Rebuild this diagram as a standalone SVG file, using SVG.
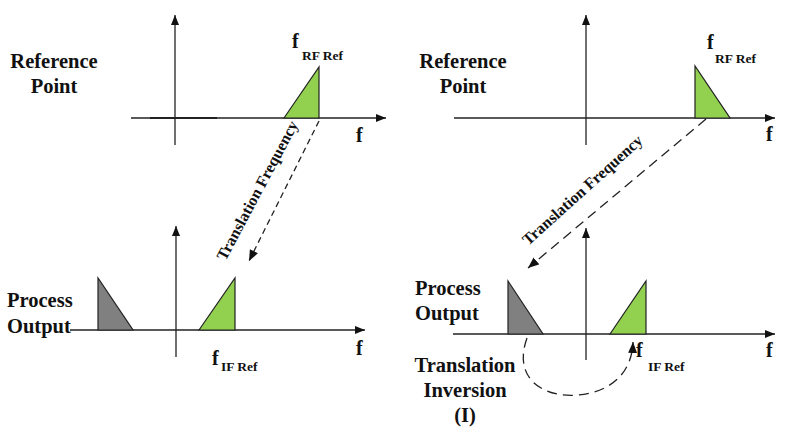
<svg xmlns="http://www.w3.org/2000/svg" width="794" height="434" viewBox="0 0 794 434">
<style>
.ax{stroke:#222;stroke-width:1.3;fill:none}
.lbl{font-family:"Liberation Serif","Times New Roman",serif;font-weight:bold;fill:#111}
.big{font-size:20.5px}
.f{font-size:20px}
.sub{font-size:13.5px}
.rot{font-size:16px}
.green{fill:#92d050;stroke:#222;stroke-width:1.2}
.gray{fill:#808080;stroke:#222;stroke-width:1.2}
.dash{stroke:#222;stroke-width:1.3;fill:none}
</style>
<defs>
<marker id="ah" markerUnits="userSpaceOnUse" markerWidth="12" markerHeight="10" refX="10" refY="4" orient="auto">
<path d="M0,0 L10,4 L0,8 z" fill="#111"/>
</marker>
<marker id="dh" markerUnits="userSpaceOnUse" markerWidth="14" markerHeight="10" refX="11" refY="4.5" orient="auto">
<path d="M0,0 L11,4.5 L0,9 z" fill="#111"/>
</marker>
</defs>
<rect width="794" height="434" fill="#fff"/>

<g id="left-top">
<line class="ax" x1="131" y1="118" x2="386" y2="118" marker-end="url(#ah)"/>
<line x1="150" y1="118" x2="217" y2="118" stroke="#222" stroke-width="2"/>
<line class="ax" x1="175" y1="145" x2="175" y2="15" marker-end="url(#ah)"/>
<polygon class="green" points="284,118 319,67 319,118"/>
<text class="lbl big" x="54" y="68" text-anchor="middle">Reference</text>
<text class="lbl big" x="54" y="93" text-anchor="middle">Point</text>
<text class="lbl f" x="292" y="48">f</text>
<text class="lbl sub" x="302" y="60">RF Ref</text>
<text class="lbl f" x="356" y="142">f</text>
</g>

<g id="left-bottom">
<line class="ax" x1="70" y1="330" x2="365" y2="330" marker-end="url(#ah)"/>
<line class="ax" x1="176" y1="357" x2="176" y2="226" marker-end="url(#ah)"/>
<polygon class="gray" points="98,278 98,330 133,330"/>
<polygon class="green" points="199,330 235,278 235,330"/>
<text class="lbl big" x="7" y="307">Process</text>
<text class="lbl big" x="7" y="333">Output</text>
<text class="lbl f" x="212" y="365">f</text>
<text class="lbl sub" x="221" y="371">IF Ref</text>
<text class="lbl f" x="356" y="355">f</text>
</g>

<g id="right-top">
<line class="ax" x1="454" y1="118" x2="775" y2="118" marker-end="url(#ah)"/>
<line class="ax" x1="586" y1="145" x2="586" y2="15" marker-end="url(#ah)"/>
<polygon class="green" points="695,66 695,118 730,118"/>
<text class="lbl big" x="463" y="68" text-anchor="middle">Reference</text>
<text class="lbl big" x="463" y="93" text-anchor="middle">Point</text>
<text class="lbl f" x="707" y="49">f</text>
<text class="lbl sub" x="715" y="63">RF Ref</text>
<text class="lbl f" x="766" y="141">f</text>
</g>

<g id="right-bottom">
<line class="ax" x1="453" y1="334" x2="775" y2="334" marker-end="url(#ah)"/>
<line class="ax" x1="586" y1="360" x2="586" y2="228" marker-end="url(#ah)"/>
<polygon class="gray" points="508,281 508,334 543,334"/>
<polygon class="green" points="610,334 646,281 646,334"/>
<text class="lbl big" x="415" y="295">Process</text>
<text class="lbl big" x="415" y="320">Output</text>
<text class="lbl big" x="465" y="372" text-anchor="middle">Translation</text>
<text class="lbl big" x="465" y="397" text-anchor="middle">Inversion</text>
<text class="lbl big" x="465" y="422" text-anchor="middle">(I)</text>
<text class="lbl f" x="636" y="357">f</text>
<text class="lbl sub" x="648" y="371">IF Ref</text>
<text class="lbl f" x="766" y="357">f</text>
</g>

<g id="connectors">
<line class="dash" x1="319" y1="121" x2="249" y2="261" stroke-dasharray="6,4" marker-end="url(#dh)"/>
<line class="dash" x1="706" y1="119" x2="528" y2="268" stroke-dasharray="10,6" marker-end="url(#dh)"/>
<path class="dash" d="M527,338 C512,380 545,398 578,395 C612,392 632,372 633,342" stroke-dasharray="10,6" marker-end="url(#dh)"/>
<text class="lbl rot" transform="translate(262,193) rotate(-62)" text-anchor="middle">Translation Frequency</text>
<text class="lbl rot" transform="translate(586,194) rotate(-42)" text-anchor="middle">Translation Frequency</text>
</g>
</svg>
